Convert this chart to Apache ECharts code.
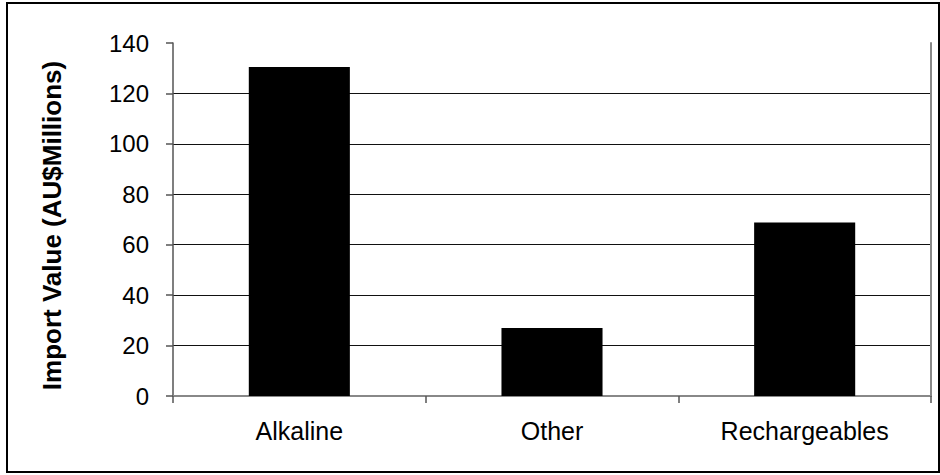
<!DOCTYPE html>
<html>
<head>
<meta charset="utf-8">
<script src="https://cdn.jsdelivr.net/npm/echarts@6/dist/echarts.min.js"></script>
<style>
  html, body { margin: 0; padding: 0; background: #fff; }
  #chart { width: 940px; height: 475px; }
</style>
</head>
<body>
<div id="chart"></div>
<script>
const categories = ['Alkaline', 'Other', 'Rechargeables'];
const importValues = [130.5, 27, 68.8];
const yTicks = { min: 0, max: 140, interval: 20 };
const yAxisTitle = 'Import Value (AU$Millions)';

const FONT = "'Liberation Sans', Arial, sans-serif";
const chart = echarts.init(document.getElementById('chart'), null, { renderer: 'svg' });

chart.setOption({
  animation: false,
  backgroundColor: '#fff',
  grid: { left: 173, right: 9, top: 43, bottom: 79, containLabel: false },
  graphic: [{
    type: 'rect',
    shape: { x: 7, y: 3, width: 932, height: 469 },
    style: { fill: 'none', stroke: '#000', lineWidth: 2 },
    silent: true
  }],
  xAxis: [{
    type: 'category',
    data: categories,
    position: 'bottom',
    axisLine: { show: true, lineStyle: { color: '#555', width: 1.5 } },
    axisTick: { show: true, alignWithLabel: false, length: 7, inside: false, lineStyle: { color: '#555', width: 1.5 } },
    axisLabel: { fontFamily: FONT, fontSize: 25, color: '#000', margin: 22 },
    splitLine: { show: false }
  }, {
    type: 'category',
    data: categories,
    position: 'top',
    axisLine: { show: true, lineStyle: { color: '#888', width: 2 } },
    axisTick: { show: false },
    axisLabel: { show: false },
    splitLine: { show: false }
  }],
  yAxis: [{
    type: 'value',
    min: yTicks.min,
    max: yTicks.max,
    interval: yTicks.interval,
    position: 'left',
    name: yAxisTitle,
    nameLocation: 'middle',
    nameRotate: 90,
    nameGap: 108,
    nameTextStyle: { fontFamily: FONT, fontSize: 26, fontWeight: 'bold', color: '#000', padding: [0, 12, 0, 0] },
    axisLine: { show: true, lineStyle: { color: '#555', width: 1.5 } },
    axisTick: { show: true, length: 7, lineStyle: { color: '#555', width: 1.5 } },
    axisLabel: { fontFamily: FONT, fontSize: 24, color: '#000', margin: 24 },
    splitLine: { show: true, showMinLine: false, showMaxLine: false, lineStyle: { color: '#111', width: 1 } }
  }, {
    type: 'value',
    min: yTicks.min,
    max: yTicks.max,
    interval: yTicks.interval,
    position: 'right',
    axisLine: { show: true, lineStyle: { color: '#888', width: 2 } },
    axisTick: { show: false },
    axisLabel: { show: false },
    splitLine: { show: false }
  }],
  series: [{
    type: 'bar',
    data: importValues,
    xAxisIndex: 0,
    yAxisIndex: 0,
    barWidth: '40%',
    itemStyle: { color: '#000' },
    silent: true
  }]
});
</script>
</body>
</html>
